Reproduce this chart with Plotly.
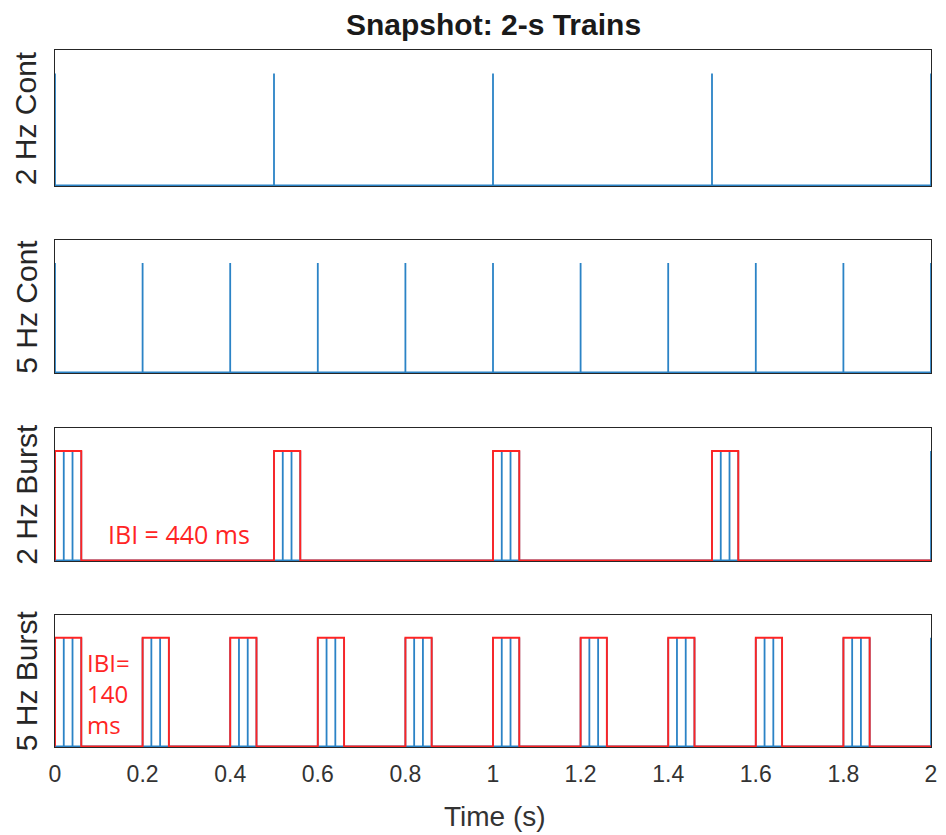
import plotly.graph_objects as go

# ---- stimulation protocols (seconds) ----
t_end = 2.0
cont_2hz_spikes = [0.0, 0.5, 1.0, 1.5, 2.0]
cont_5hz_spikes = [0.0, 0.2, 0.4, 0.6, 0.8, 1.0, 1.2, 1.4, 1.6, 1.8, 2.0]
burst_2hz_onsets = [0.0, 0.5, 1.0, 1.5]
burst_5hz_onsets = [0.0, 0.2, 0.4, 0.6, 0.8, 1.0, 1.2, 1.4, 1.6, 1.8]
pulse_offsets = [0.0, 0.02, 0.04, 0.06]   # pulses within one burst
burst_width = 0.06                         # burst window length
spike_amp = 1.0

panel_names = ["2 Hz Cont", "5 Hz Cont", "2 Hz Burst", "5 Hz Burst"]
tick_vals = [0, 0.2, 0.4, 0.6, 0.8, 1.0, 1.2, 1.4, 1.6, 1.8, 2.0]
tick_text = ["0", "0.2", "0.4", "0.6", "0.8", "1", "1.2", "1.4", "1.6", "1.8", "2"]

BLUE = "#2b83c6"
RED = "#ff2424"
AX = "#262626"


def spike_trace(times):
    xs, ys = [0.0], [0.0]
    for t in times:
        xs += [t, t, t]
        ys += [0.0, spike_amp, 0.0]
    xs.append(t_end)
    ys.append(0.0)
    return xs, ys


def burst_spikes(onsets):
    times = [o + d for o in onsets for d in pulse_offsets]
    times.append(t_end)
    return sorted(times)


def window_trace(onsets):
    xs, ys = [0.0], [0.0]
    for o in onsets:
        xs += [o, o, o + burst_width, o + burst_width]
        ys += [0.0, spike_amp, spike_amp, 0.0]
    xs.append(t_end)
    ys.append(0.0)
    return xs, ys


fig = go.Figure()

# pixel layout of the four panels (top, bottom) inside a 697-px plot area
top_px, bot_px = 50, 747
H = bot_px - top_px
panels_px = [(50, 186), (240, 373), (428, 561), (615, 747)]

spike_sets = [cont_2hz_spikes, cont_5hz_spikes,
              burst_spikes(burst_2hz_onsets), burst_spikes(burst_5hz_onsets)]
windows = [None, None, burst_2hz_onsets, burst_5hz_onsets]

for i in range(4):
    ax = "" if i == 0 else str(i + 1)
    xs, ys = spike_trace(spike_sets[i])
    fig.add_trace(go.Scatter(x=xs, y=ys, mode="lines",
                             line=dict(color=BLUE, width=1.8),
                             xaxis="x" + ax, yaxis="y" + ax,
                             showlegend=False, hoverinfo="skip"))
    if windows[i] is not None:
        wx, wy = window_trace(windows[i])
        fig.add_trace(go.Scatter(x=wx, y=wy, mode="lines",
                                 line=dict(color=RED, width=1.9),
                                 xaxis="x" + ax, yaxis="y" + ax,
                                 showlegend=False, hoverinfo="skip"))

    t_px, b_px = panels_px[i]
    dom = [(bot_px - b_px) / H, (bot_px - t_px) / H]
    last = i == 3
    fig.layout["xaxis" + ax] = dict(
        domain=[0, 1], range=[0, t_end], anchor="y" + ax,
        showline=True, linecolor=AX, linewidth=1, mirror=True,
        showgrid=False, zeroline=False, layer="below traces",
        ticks="inside" if last else "", ticklen=9, tickcolor=AX,
        tickvals=tick_vals if last else [], ticktext=tick_text if last else [],
        showticklabels=last,
        tickfont=dict(family="Liberation Sans, Arial", size=23, color="#333333"),
        ticklabelstandoff=6,
    )
    fig.layout["yaxis" + ax] = dict(
        domain=dom, range=[-0.005, 1.21], anchor="x" + ax,
        showline=True, linecolor=AX, linewidth=1, mirror=True,
        showgrid=False, zeroline=False, ticks="", showticklabels=False,
        layer="below traces",
    )
    # panel label on the left
    fig.add_annotation(text=panel_names[i], xref="paper", yref="paper",
                       x=(26 - 55) / 882, y=(dom[0] + dom[1]) / 2,
                       textangle=-90, showarrow=False,
                       xanchor="center", yanchor="middle",
                       font=dict(family="Liberation Sans, Arial", size=30, color="#262626"))

# inter-burst interval notes
fig.add_annotation(text="IBI = 440 ms", xref="x3", yref="y3", x=0.283, y=0.245,
                   showarrow=False, xanchor="center", yanchor="middle",
                   font=dict(family="Open Sans", size=25, color=RED))
fig.add_annotation(text="IBI=<br>140<br>ms", xref="x4", yref="y4", x=0.068, y=0.49,
                   showarrow=False, xanchor="left", yanchor="middle", align="left",
                   font=dict(family="Open Sans", size=24, color=RED))

# title and time axis label
fig.add_annotation(text="<b>Snapshot: 2-s Trains</b>", xref="paper", yref="paper",
                   x=(497 - 55) / 882, y=(bot_px - 25) / H, showarrow=False,
                   xanchor="center", yanchor="middle",
                   font=dict(family="Liberation Sans, Arial", size=30, color="#1a1a1a"))
fig.add_annotation(text="Time (s)", xref="paper", yref="paper",
                   x=(498 - 55) / 882, y=(bot_px - 816) / H, showarrow=False,
                   xanchor="center", yanchor="middle",
                   font=dict(family="Liberation Sans, Arial", size=28, color="#333333"))

fig.update_layout(width=946, height=835,
                  margin=dict(l=55, r=9, t=50, b=88),
                  paper_bgcolor="white", plot_bgcolor="white")

fig.write_html("out.html")
